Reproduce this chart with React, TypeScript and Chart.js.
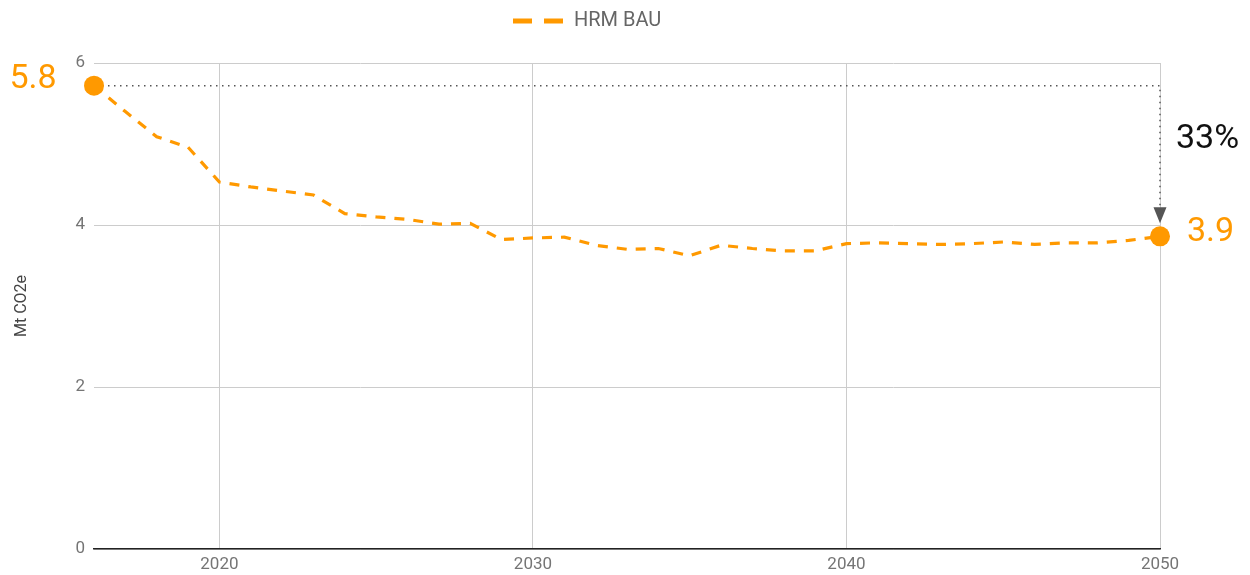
import React, { useEffect, useRef } from "react";
import { Chart, registerables } from "chart.js";

Chart.register(...registerables);

const years = [
  2016, 2017, 2018, 2019, 2020, 2021, 2022, 2023, 2024, 2025, 2026, 2027,
  2028, 2029, 2030, 2031, 2032, 2033, 2034, 2035, 2036, 2037, 2038, 2039,
  2040, 2041, 2042, 2043, 2044, 2045, 2046, 2047, 2048, 2049, 2050,
];
const hrmBau = [
  5.72, 5.4, 5.09, 4.96, 4.53, 4.47, 4.42, 4.37, 4.14, 4.1, 4.07, 4.01,
  4.02, 3.82, 3.84, 3.85, 3.75, 3.7, 3.71, 3.62, 3.75, 3.71, 3.68, 3.68,
  3.77, 3.78, 3.77, 3.76, 3.77, 3.79, 3.76, 3.78, 3.78, 3.81, 3.86,
];
const xTicks = [2020, 2030, 2040, 2050];
const yTicks = [0, 2, 4, 6];
const seriesLabel = "HRM BAU";
const yAxisTitle = "Mt CO2e";
const startLabel = "5.8";
const endLabel = "3.9";
const changeLabel = "33%";

const ORANGE = "#FF9900";
const FONT = "Roboto, Arial, sans-serif";

const annotationPlugin = {
  id: "annotations",
  beforeDatasetsDraw(chart: any) {
    const { ctx, scales } = chart;
    const x = scales.x;
    const y = scales.y;
    const n = hrmBau.length;
    const x0 = x.getPixelForValue(years[0]);
    const y0 = y.getPixelForValue(hrmBau[0]);
    const x1 = x.getPixelForValue(years[n - 1]);
    const y1 = y.getPixelForValue(hrmBau[n - 1]);
    ctx.save();
    ctx.strokeStyle = "#555";
    ctx.lineWidth = 1.5;
    ctx.setLineDash([1.5, 4.5]);
    ctx.beginPath();
    ctx.moveTo(x0 + 8, y0);
    ctx.lineTo(x1, y0);
    ctx.lineTo(x1, y1 - 29);
    ctx.stroke();
    ctx.setLineDash([]);
    ctx.fillStyle = "#555";
    ctx.beginPath();
    ctx.moveTo(x1 - 6.5, y1 - 29);
    ctx.lineTo(x1 + 6.5, y1 - 29);
    ctx.lineTo(x1, y1 - 13);
    ctx.closePath();
    ctx.fill();
    ctx.restore();
  },
  afterDraw(chart: any) {
    const { ctx, scales } = chart;
    const x = scales.x;
    const y = scales.y;
    const n = hrmBau.length;
    const y0 = y.getPixelForValue(hrmBau[0]);
    const x1 = x.getPixelForValue(years[n - 1]);
    const y1 = y.getPixelForValue(hrmBau[n - 1]);
    ctx.save();
    ctx.textBaseline = "middle";
    ctx.font = `34px ${FONT}`;
    ctx.fillStyle = ORANGE;
    ctx.textAlign = "center";
    ctx.fillText(startLabel, 33, y0 - 6);
    ctx.textAlign = "left";
    ctx.fillText(endLabel, x1 + 27, y1 - 4);
    ctx.fillStyle = "#111";
    ctx.font = `34px ${FONT}`;
    ctx.fillText(changeLabel, x1 + 16, 139);

    // legend
    ctx.strokeStyle = ORANGE;
    ctx.lineWidth = 5;
    ctx.setLineDash([19, 12]);
    ctx.beginPath();
    ctx.moveTo(513, 21);
    ctx.lineTo(563, 21);
    ctx.stroke();
    ctx.setLineDash([]);
    ctx.fillStyle = "#666";
    ctx.font = `20px ${FONT}`;
    ctx.textAlign = "left";
    ctx.fillText(seriesLabel, 574, 21);
    ctx.restore();
  },
};

export default function App() {
  const canvasRef = useRef<HTMLCanvasElement | null>(null);

  useEffect(() => {
    if (!canvasRef.current) return;
    const n = hrmBau.length;
    const chart = new Chart(canvasRef.current, {
      type: "line",
      data: {
        datasets: [
          {
            label: seriesLabel,
            data: years.map((yr, i) => ({ x: yr, y: hrmBau[i] })),
            borderColor: ORANGE,
            backgroundColor: ORANGE,
            borderWidth: 3.2,
            borderDash: [10, 9],
            tension: 0,
            pointRadius: (c: any) => (c.dataIndex === 0 || c.dataIndex === n - 1 ? 10 : 0),
            pointBackgroundColor: ORANGE,
            pointBorderWidth: 0,
            pointHoverRadius: 10,
            clip: false,
          } as any,
        ],
      },
      options: {
        responsive: false,
        animation: false,
        layout: { padding: { top: 63, right: 90, left: 0, bottom: 0 } },
        plugins: {
          legend: { display: false },
          tooltip: { enabled: false },
        },
        scales: {
          x: {
            type: "linear",
            min: 2016,
            max: 2050,
            afterBuildTicks: (s: any) => {
              s.ticks = xTicks.map((v) => ({ value: v }));
            },
            afterFit: (s: any) => {
              s.height = 26;
            },
            grid: { color: "#cccccc", lineWidth: 1, drawTicks: false },
            border: { display: true, color: "#222", width: 1.5 },
            ticks: {
              padding: 6,
              color: "#757575",
              font: { family: FONT, size: 17 },
              maxRotation: 0,
              autoSkip: false,
              callback: (v: any) => String(v),
            },
          },
          y: {
            min: 0,
            max: 6,
            afterBuildTicks: (s: any) => {
              s.ticks = yTicks.map((v) => ({ value: v }));
            },
            afterFit: (s: any) => {
              s.width = 94;
            },
            grid: { color: "#cccccc", lineWidth: 1, drawTicks: false },
            border: { display: false },
            ticks: {
              padding: 9,
              color: "#757575",
              font: { family: FONT, size: 17 },
              callback: (v: any) => String(v),
            },
            title: {
              display: true,
              text: yAxisTitle,
              color: "#444",
              font: { family: FONT, size: 16 },
              padding: { top: 12, bottom: 0 },
            },
          },
        },
      },
      plugins: [annotationPlugin],
    });
    return () => chart.destroy();
  }, []);

  return (
    <div style={{ position: "fixed", left: 0, top: 0, width: 1250, height: 575, background: "#fff" }}>
      <canvas ref={canvasRef} width={1250} height={575} style={{ display: "block" }} />
    </div>
  );
}
